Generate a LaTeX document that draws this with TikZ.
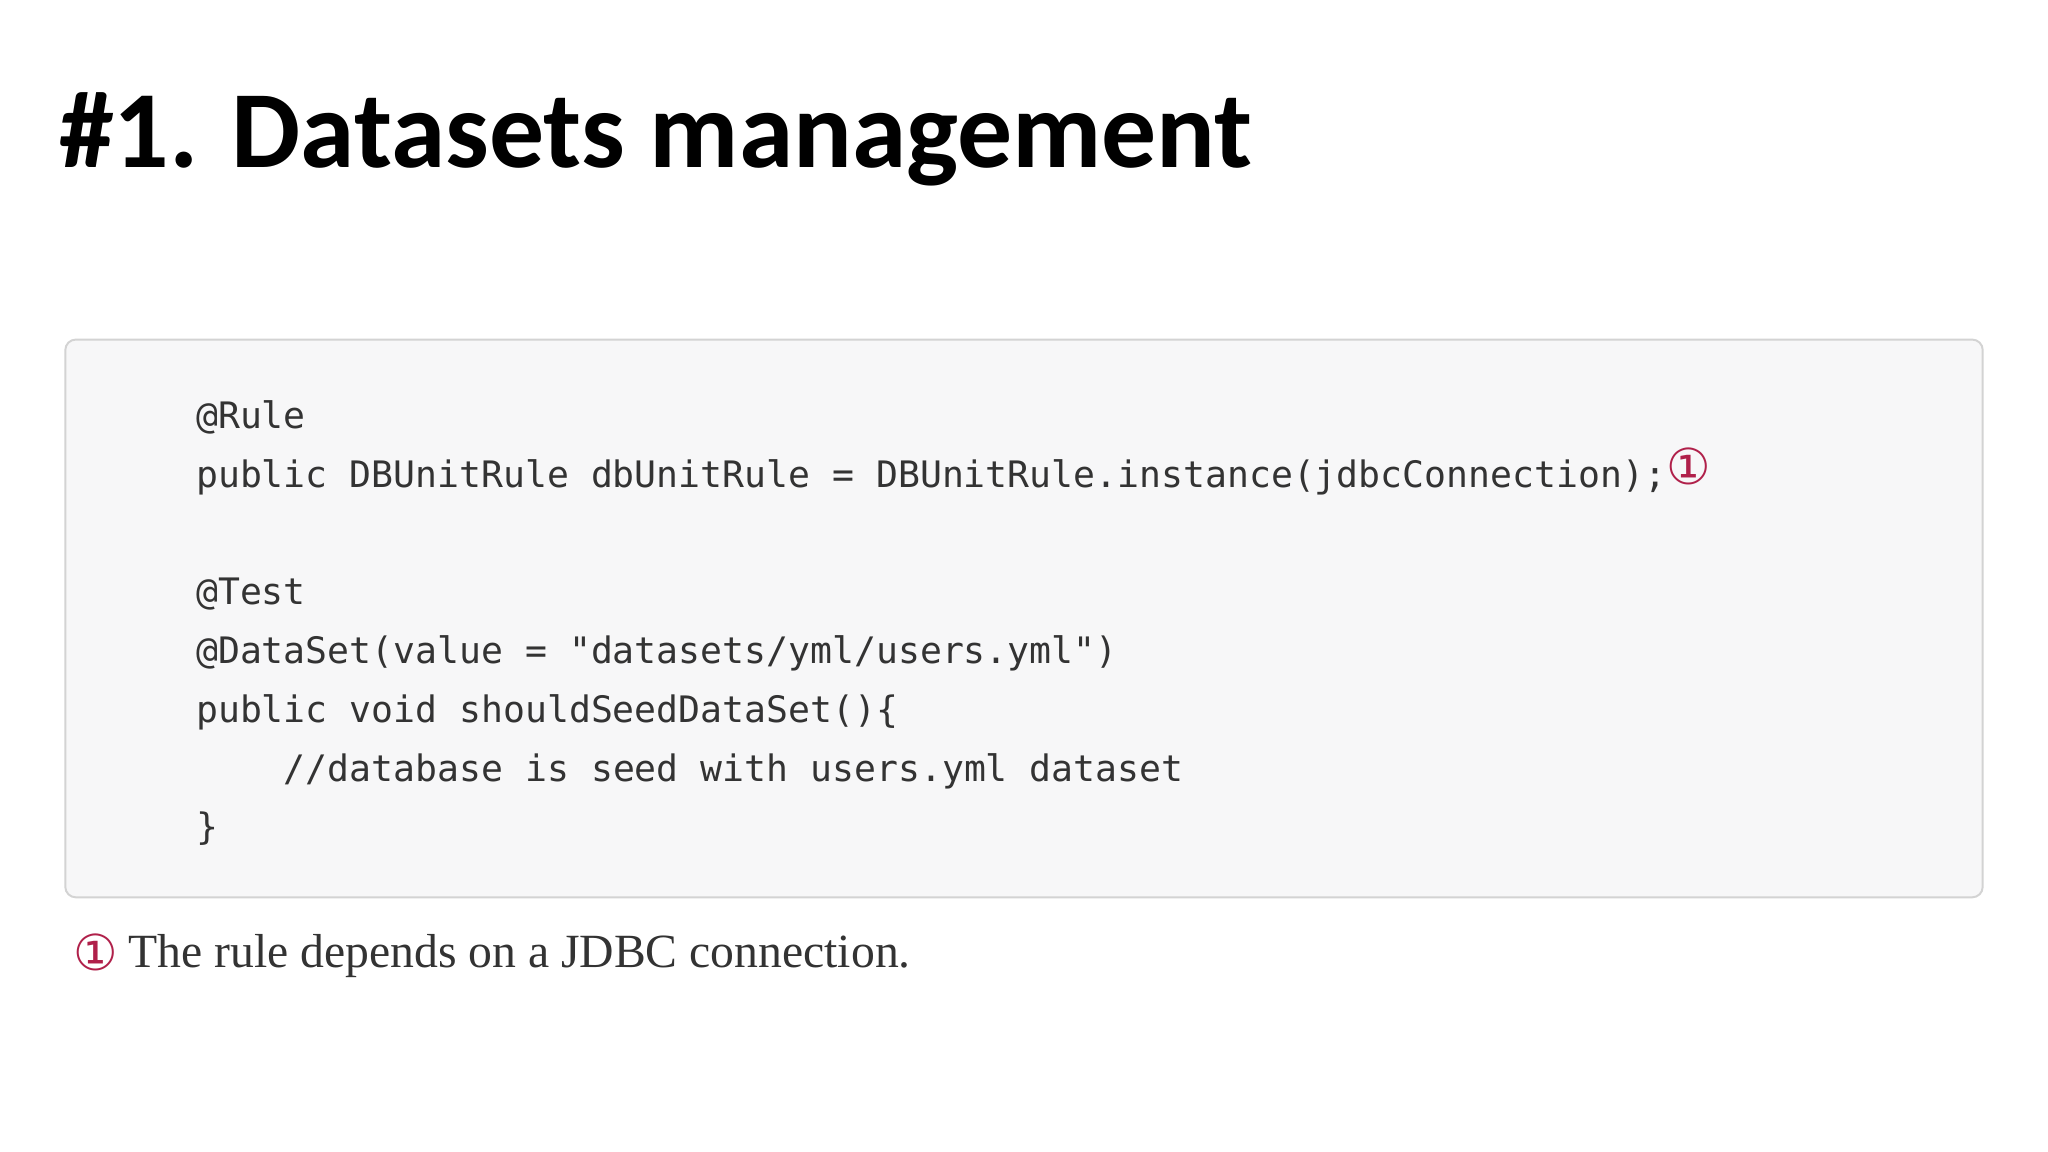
\documentclass[tikz,border=0pt]{standalone}
\usepackage{fontspec}
\setmainfont{Liberation Serif}
\newfontfamily\titlefont{Carlito}
\newfontfamily\codefont{DejaVu Sans Mono}
\newfontfamily\symfont{DejaVu Sans}
\definecolor{codegray}{HTML}{333333}
\definecolor{boxfill}{HTML}{F7F7F8}
\definecolor{boxline}{HTML}{D3D3D3}
\definecolor{calloutred}{HTML}{B0204A}
\begin{document}
\begin{tikzpicture}[x=1pt,y=-1pt,
  codeline/.style={anchor=base west,inner sep=0pt,text=codegray,font=\codefont\fontsize{27.9}{30}\selectfont},
  callout/.style={text=calloutred,font=\symfont\fontsize{38}{38}\selectfont,inner sep=0pt}]
\useasboundingbox (0,0) rectangle (1568,882);
\fill[white] (0,0) rectangle (1568,882);
\node[anchor=base west,inner sep=0pt,font=\titlefont\bfseries\fontsize{84}{90}\selectfont] (title) at (45,128) {\#1. Datasets management};
\draw[boxline,fill=boxfill,line width=1.5pt,rounded corners=8pt] (50,260) rectangle (1518,687);
\node[codeline] (l1) at (150,328) {@Rule};
\node[codeline] (l2) at (150,373) {public DBUnitRule dbUnitRule = DBUnitRule.instance(jdbcConnection);};
\node[callout,anchor=base west] (c1) at ([yshift=2pt]l2.base east) {①};
\node[codeline] (l3) at (150,463) {@Test};
\node[codeline] (l4) at (150,508) {@DataSet(value = "datasets/yml/users.yml")};
\node[codeline] (l5) at (150,553) {public void shouldSeedDataSet()\{};
\node[codeline] (l6) at (150,598) {\ \ \ \ //database is seed with users.yml dataset};
\node[codeline] (l7) at (150,643) {\}};
\node[callout,anchor=base west] (c2) at (56,743) {①};
\node[anchor=base west,inner sep=0pt,text=codegray,font=\fontsize{36.5}{40}\selectfont] (note) at (98,741) {The rule depends on a JDBC connection.};
\end{tikzpicture}
\end{document}
